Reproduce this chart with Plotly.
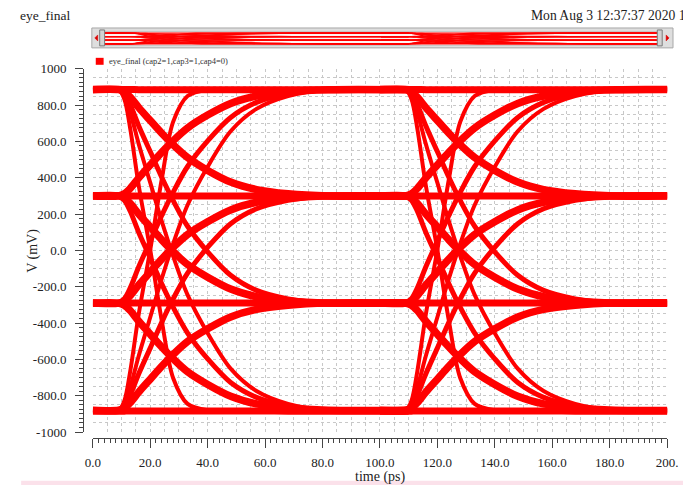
import plotly.graph_objects as go

# ---------------- data ----------------
# time samples within one unit interval (ps, relative to UI start)
t_rel = [0, 9, 11, 13, 16, 20, 24, 28, 33, 40, 48, 57, 68, 82, 110]
ui_start_ps = [0, 100]

# adjacent-level transitions (mV)
v_885_to_300 = [885, 885, 873, 844, 786, 715, 645, 581, 511, 440, 376, 335, 312, 300, 300]
v_300_to_885 = [300, 300, 312, 341, 399, 470, 540, 604, 674, 745, 809, 850, 873, 885, 885]
v_300_to_m290 = [300, 300, 288, 259, 200, 129, 58, -7, -78, -148, -213, -255, -278, -290, -290]
v_m290_to_300 = [-290, -290, -278, -249, -190, -119, -48, 17, 88, 158, 223, 265, 288, 300, 300]
v_m290_to_m880 = [-290, -290, -302, -331, -390, -461, -532, -597, -668, -738, -803, -845, -868, -880, -880]
v_m880_to_m290 = [-880, -880, -868, -839, -780, -709, -638, -573, -502, -432, -367, -325, -302, -290, -290]
# two-level transitions
v_885_to_m290 = [885, 885, 861, 803, 685, 544, 403, 274, 133, -8, -137, -220, -267, -290, -290]
v_m290_to_885 = [-290, -290, -266, -208, -90, 51, 192, 321, 462, 603, 732, 815, 862, 885, 885]
v_300_to_m880 = [300, 300, 276, 217, 99, -42, -184, -314, -455, -597, -727, -809, -856, -880, -880]
v_m880_to_300 = [-880, -880, -856, -797, -679, -538, -396, -266, -125, 17, 147, 229, 276, 300, 300]
# full-swing transitions
v_885_to_m880 = [885, 885, 850, 761, 585, 373, 161, -33, -245, -456, -651, -774, -845, -880, -880]
v_m880_to_885 = [-880, -880, -845, -756, -580, -368, -156, 38, 250, 461, 656, 779, 850, 885, 885]
v_885_to_m880_fast = [885, 885, 832, 673, 356, 3, -386, -704, -845, -880, -880, -880, -880, -880, -880]
v_m880_to_885_fast = [-880, -880, -827, -668, -350, 3, 391, 709, 850, 885, 885, 885, 885, 885, 885]
# levels held
v_885_hold = [887, 887, 886, 886, 885, 885, 885, 884, 884, 884, 884, 884, 885, 885, 886]
v_300_hold = [302, 302, 301, 300, 300, 300, 300, 300, 300, 300, 300, 300, 300, 301, 302]
v_m290_hold = [-292, -292, -291, -290, -290, -290, -290, -290, -290, -290, -290, -290, -290, -291, -292]
v_m880_hold = [-886, -886, -885, -884, -884, -884, -884, -884, -884, -884, -884, -884, -885, -885, -886]

x_tick_vals = [0, 20, 40, 60, 80, 100, 120, 140, 160, 180, 200]
x_tick_text = ["0.0", "20.0", "40.0", "60.0", "80.0", "100.0", "120.0", "140.0", "160.0", "180.0", "200."]
y_tick_vals = [1000, 800, 600, 400, 200, 0, -200, -400, -600, -800, -1000]
y_tick_text = ["1000", "800.0", "600.0", "400.0", "200.0", "0.0", "-200.0", "-400.0", "-600.0", "-800.0", "-1000"]

# ---------------- styling ----------------
hold_curves = [(v_885_hold, 7), (v_300_hold, 7), (v_m290_hold, 7), (v_m880_hold, 7)]
move_curves = [
    (v_885_to_300, 7.5), (v_300_to_885, 7.5), (v_300_to_m290, 7.5),
    (v_m290_to_300, 7.5), (v_m290_to_m880, 7.5), (v_m880_to_m290, 7.5),
    (v_885_to_m290, 5), (v_m290_to_885, 5), (v_300_to_m880, 5), (v_m880_to_300, 5),
    (v_885_to_m880, 4), (v_m880_to_885, 4),
    (v_885_to_m880_fast, 4), (v_m880_to_885_fast, 4),
]
RED = "#ff0000"
SERIF = "Liberation Serif, Times New Roman, serif"
TXT = "#222222"

OFF = 8                      # page body margin of the browser
W, H = 691 - OFF, 485 - OFF
# plot area in reference-window pixels: x 83..684, y 20..438
ML, MR, MT, MB = 83 - OFF, 7, 20 - OFF, 485 - 438
PW, PH = W - ML - MR, H - MT - MB


def px_x(px):
    return (px - OFF - ML) / PW


def px_y(py):
    return (H - MB - (py - OFF)) / PH


fig = go.Figure()
for k, ui in enumerate(ui_start_ps):
    xs = [t + ui for t in t_rel]
    for vals, w in hold_curves + move_curves:
        is_hold = any(vals is h[0] for h in hold_curves)
        if k == 1:
            xa, ya = "x3", "y"
        elif is_hold:
            xa, ya = "x", "y3"
        else:
            xa, ya = "x", "y"
        fig.add_trace(go.Scatter(x=xs, y=vals, mode="lines", hoverinfo="skip",
                                 xaxis=xa, yaxis=ya,
                                 line=dict(color=RED, width=w, shape="spline", smoothing=0.9),
                                 showlegend=False))
        fig.add_trace(go.Scatter(x=xs, y=vals, mode="lines", hoverinfo="skip",
                                 xaxis="x2", yaxis="y2",
                                 line=dict(color=RED, width=1.3, shape="spline", smoothing=0.9),
                                 showlegend=False))

axis_col = "#444444"
grid_col = "#c8c8c8"
X_RANGE = [0, 200.02]
fig.update_layout(
    width=W, height=H,
    margin=dict(l=ML, r=MR, t=MT, b=MB),
    paper_bgcolor="white", plot_bgcolor="white",
    showlegend=False,
    font=dict(family=SERIF, size=13, color=TXT),
    xaxis=dict(domain=[px_x(93), px_x(678)], range=X_RANGE, anchor="free", position=0,
               tickmode="array", tickvals=x_tick_vals, ticktext=x_tick_text,
               ticks="outside", ticklen=9, tickcolor=axis_col, tickwidth=1,
               showline=True, linecolor=axis_col, linewidth=1,
               showgrid=True, gridcolor=grid_col, griddash="dot", gridwidth=1,
               zeroline=False, ticklabelstandoff=3, ticklabeloverflow="allow",
               tickfont=dict(family=SERIF, size=13, color=TXT),
               minor=dict(tickmode="linear", tick0=0, dtick=5, ticks="",
                          showgrid=True, gridcolor=grid_col, griddash="dot", gridwidth=1)),
    yaxis=dict(domain=[px_y(432), px_y(67)], range=[-1000, 1000], anchor="free", position=0,
               tickmode="array", tickvals=y_tick_vals, ticktext=y_tick_text,
               ticks="outside", ticklen=8, tickcolor=axis_col, tickwidth=1,
               showline=True, linecolor=axis_col, linewidth=1,
               showgrid=True, gridcolor=grid_col, griddash="dot", gridwidth=1,
               zeroline=False, ticklabelstandoff=6, ticklabeloverflow="allow",
               tickfont=dict(family=SERIF, size=13, color=TXT),
               minor=dict(tickmode="linear", tick0=0, dtick=50, ticks="",
                          showgrid=True, gridcolor=grid_col, griddash="dot", gridwidth=1)),
    xaxis3=dict(overlaying="x", anchor="free", position=0, range=X_RANGE,
                tickmode="linear", tick0=0, dtick=2, ticks="outside", ticklen=4,
                tickcolor=axis_col, showgrid=False, showticklabels=False,
                showline=False, zeroline=False),
    yaxis3=dict(overlaying="y", anchor="free", position=0, range=[-1000, 1000],
                tickmode="linear", tick0=0, dtick=25, ticks="outside", ticklen=4,
                tickcolor=axis_col, showgrid=False, showticklabels=False,
                showline=False, zeroline=False),
    xaxis2=dict(domain=[px_x(105), px_x(668)], range=[0, 200], anchor="y2", visible=False),
    yaxis2=dict(domain=[px_y(43.5), px_y(29.5)], range=[-1150, 1150], anchor="x2", visible=False),
)

shapes = [
    # overview frame
    dict(type="rect", xref="paper", yref="paper", layer="below",
         x0=px_x(92), x1=px_x(684), y0=px_y(46), y1=px_y(26),
         fillcolor="#dedede", line=dict(color="#a8a8a8", width=1)),
    dict(type="rect", xref="paper", yref="paper", layer="below",
         x0=px_x(103), x1=px_x(671), y0=px_y(43.5), y1=px_y(29.5),
         fillcolor="#fff3f3", line=dict(color="#c4c4c4", width=1)),
    # handles
    dict(type="rect", xref="paper", yref="paper", layer="above",
         x0=px_x(100), x1=px_x(105), y0=px_y(44), y1=px_y(28),
         fillcolor="#d2d2d2", line=dict(color="#7a7a7a", width=1)),
    dict(type="rect", xref="paper", yref="paper", layer="above",
         x0=px_x(668), x1=px_x(673), y0=px_y(44), y1=px_y(28),
         fillcolor="#d2d2d2", line=dict(color="#7a7a7a", width=1)),
    # arrows
    dict(type="path", xref="paper", yref="paper", layer="above",
         path=f"M {px_x(98)} {px_y(33)} L {px_x(98)} {px_y(39)} L {px_x(95)} {px_y(36)} Z",
         fillcolor="#dd0000", line=dict(color="#dd0000", width=0.5)),
    dict(type="path", xref="paper", yref="paper", layer="above",
         path=f"M {px_x(677)} {px_y(33)} L {px_x(677)} {px_y(39)} L {px_x(680)} {px_y(36)} Z",
         fillcolor="#dd0000", line=dict(color="#dd0000", width=0.5)),
    # legend swatch
    dict(type="rect", xref="paper", yref="paper",
         x0=px_x(96), x1=px_x(104), y0=px_y(63), y1=px_y(56),
         fillcolor=RED, line=dict(color=RED, width=0)),
    # bottom pink strip
    dict(type="rect", xref="paper", yref="paper", layer="below",
         x0=px_x(20), x1=px_x(700), y0=px_y(492), y1=px_y(481),
         fillcolor="#fbe1ea", line=dict(width=0)),
]
fig.update_layout(shapes=shapes)

annotations = [
    dict(text="eye_final", x=px_x(17), y=px_y(13), xref="paper", yref="paper",
         xanchor="left", yanchor="middle", showarrow=False,
         font=dict(family=SERIF, size=13.5, color=TXT)),
    dict(text="Mon Aug 3 12:37:37 2020 1", x=px_x(537), y=px_y(13), xref="paper", yref="paper",
         xanchor="left", yanchor="middle", showarrow=False,
         font=dict(family=SERIF, size=13.6, color=TXT)),
    dict(text="eye_final (cap2=1,cap3=1,cap4=0)", x=px_x(107), y=px_y(59.5), xref="paper", yref="paper",
         xanchor="left", yanchor="middle", showarrow=False,
         font=dict(family=SERIF, size=8.5, color="#333333")),
    dict(text="V (mV)", x=px_x(32), y=px_y(250), xref="paper", yref="paper",
         xanchor="center", yanchor="middle", showarrow=False, textangle=-90,
         font=dict(family=SERIF, size=14, color=TXT)),
    dict(text="time (ps)", x=px_x(386), y=px_y(477), xref="paper", yref="paper",
         xanchor="center", yanchor="middle", showarrow=False,
         font=dict(family=SERIF, size=14, color=TXT)),
]
fig.update_layout(annotations=annotations)

fig.write_html("out.html")
